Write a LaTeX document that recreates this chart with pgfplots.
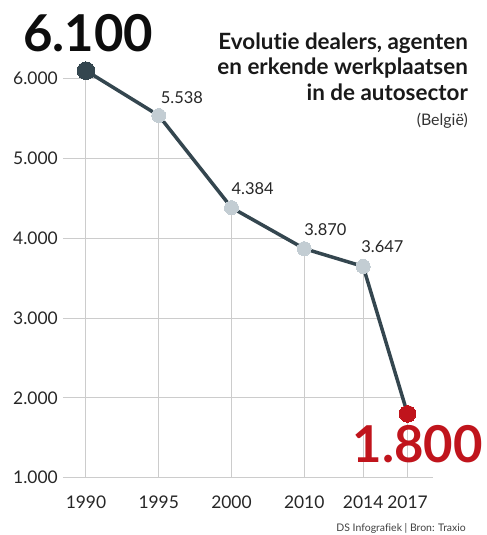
\documentclass[border=0pt]{standalone}
\usepackage{fontspec}
\setmainfont{Lato}[Ligatures={NoCommon}]
\usepackage{pgfplots}
\pgfplotsset{compat=1.18}
\definecolor{linec}{HTML}{34464F}
\definecolor{grayc}{HTML}{C3CDD3}
\definecolor{redc}{HTML}{C0141C}
\definecolor{gridc}{HTML}{CCCCCC}
\begin{document}
\begin{tikzpicture}[x=1bp,y=1bp]
\path[use as bounding box] (-63,-57.3) rectangle (424,477.7);
\begin{axis}[
  at={(0,0)}, anchor=south west, scale only axis,
  width=370bp, height=411bp,
  xmin=-0.316, xmax=4.77, ymin=1000, ymax=6150,
  axis line style={draw=none}, tick style={draw=none},
  xtick={0,1,2,3,3.81,4.42},
  xticklabels={1990,1995,2000,2010,2014,2017},
  ytick={1000,2000,3000,4000,5000,6000},
  yticklabels={1.000,2.000,3.000,4.000,5.000,6.000},
  /pgf/number format/assume math mode=true,
  ticklabel style={font=\fontsize{17.5}{19}\selectfont, text=black!85},
  xticklabel style={anchor=north, inner sep=0pt, yshift=-18bp},
  yticklabel style={anchor=east, inner sep=0pt, xshift=-5bp},
  grid=major, major grid style={gridc, line width=1bp},
  clip=false,
]
\addplot[fill=white, draw=none] coordinates {(-0.316,6100) (0,6100) (1,5538) (2,4384) (3,3870) (3.81,3647) (4.42,1800) (4.77,1800) (4.77,6150) (-0.316,6150)} -- cycle;
\addplot[linec, line width=3.5bp, no markers] coordinates {(0,6100) (1,5538) (2,4384) (3,3870) (3.81,3647) (4.42,1800)};
\addplot[only marks, color=linec, mark=*, mark size=8.8bp, mark options={fill=linec, draw=linec, line width=0pt}] coordinates {(0,6100)};
\addplot[only marks, color=grayc, mark=*, mark size=7bp, mark options={fill=grayc, draw=grayc, line width=0pt}] coordinates {(1,5538) (2,4384) (3,3870) (3.81,3647)};
\addplot[only marks, color=redc, mark=*, mark size=8.3bp, mark options={fill=redc, draw=redc, line width=0pt}] coordinates {(4.42,1800)};
\begin{scope}[every node/.style={font=\fontsize{16.5}{18}\selectfont, text=black!85, anchor=base west, inner sep=0pt}]
\node[xshift=2bp, yshift=12bp] at (axis cs:1,5538) {5.538};
\node[xshift=0bp, yshift=13bp] at (axis cs:2,4384) {4.384};
\node[xshift=0bp, yshift=13bp] at (axis cs:3,3870) {3.870};
\node[xshift=-2bp, yshift=14bp] at (axis cs:3.81,3647) {3.647};
\end{scope}
\end{axis}
% big numbers
\node[anchor=base west, inner sep=0pt, font=\fontsize{51}{52}\selectfont\bfseries, text=black!95] at (-40,425.7) {6.100};
\node[anchor=base east, inner sep=0pt, font=\fontsize{51}{52}\selectfont\bfseries, text=redc] at (420,14.7) {1.800};
% title
\begin{scope}[every node/.style={anchor=base east, inner sep=0pt, font=\fontsize{22.5}{25}\selectfont\bfseries, text=black!90}]
\node at (405,427.7) {Evolutie dealers, agenten};
\node at (405,402.7) {en erkende werkplaatsen};
\node at (405,376.7) {in de autosector};
\end{scope}
\node[anchor=base east, inner sep=0pt, font=\fontsize{16}{18}\selectfont, text=black!80] at (405,351.7) {(België)};
\node[anchor=base east, inner sep=0pt, font=\fontsize{10.5}{12}\selectfont, text=black!75] at (403,-54.3) {DS Infografiek | Bron: Traxio};
\end{tikzpicture}
\end{document}
